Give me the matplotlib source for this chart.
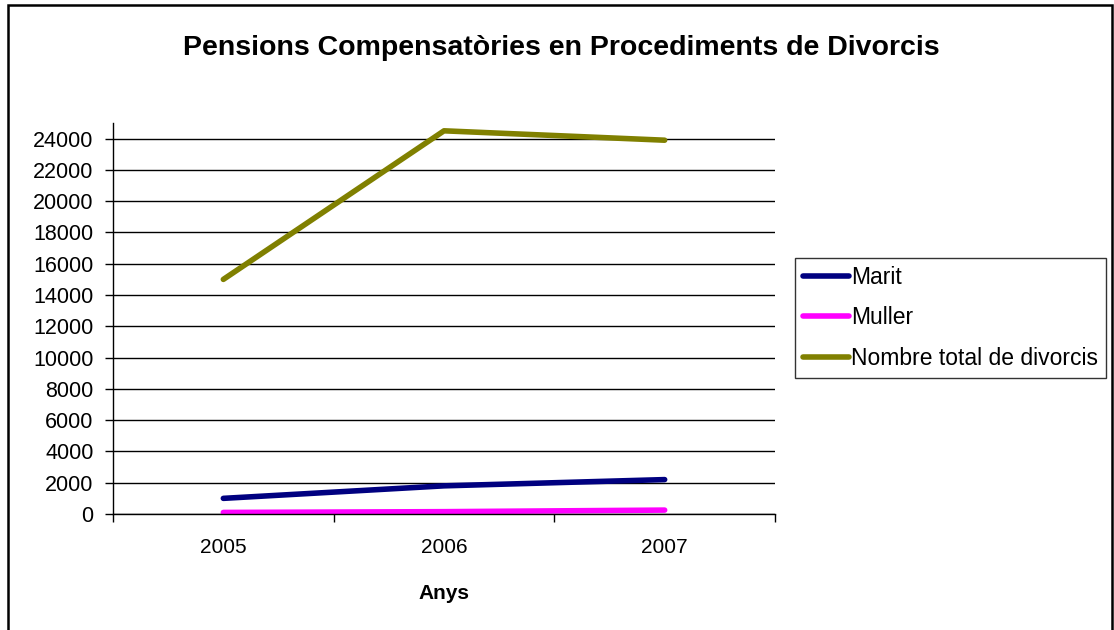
import matplotlib
matplotlib.use('Agg')
import matplotlib.pyplot as plt
from matplotlib.patches import Rectangle

years = ['2005', '2006', '2007']
marit = [1000, 1800, 2200]
muller = [100, 150, 250]
total_divorcis = [15000, 24500, 23900]

plt.rcParams['font.family'] = ['Liberation Sans', 'DejaVu Sans']

fig = plt.figure(figsize=(11.14, 6.3), dpi=100)
ax = fig.add_axes([113 / 1114, 1 - 514 / 630, (775 - 113) / 1114, (514 - 123) / 630])

x = range(len(years))
ax.plot(x, marit, color='#000080', lw=4, solid_capstyle='round', label='Marit')
ax.plot(x, muller, color='#FF00FF', lw=4, solid_capstyle='round', label='Muller')
ax.plot(x, total_divorcis, color='#808000', lw=4, solid_capstyle='round', label='Nombre total de divorcis')

ax.set_xlim(-0.5, 2.5)
ax.set_ylim(0, 25000)
ax.set_yticks(range(0, 25000, 2000))
ax.set_xticks([-0.5, 0.5, 1.5, 2.5])
ax.set_xticklabels([])
ax.set_xticks(list(x), minor=True)
ax.set_xticklabels(years, minor=True)
ax.tick_params(axis='x', which='minor', length=0, pad=17, labelsize=15)
ax.tick_params(axis='x', which='major', length=6, direction='out', width=1)
ax.tick_params(axis='y', length=6, direction='out', width=1, labelsize=15.5, pad=8)
ax.grid(axis='y', color='black', lw=1)
ax.set_axisbelow(True)
for s in ['top', 'right']:
    ax.spines[s].set_visible(False)
for s in ['left', 'bottom']:
    ax.spines[s].set_linewidth(1)

ax.set_xlabel('Anys', fontsize=15, fontweight='bold', labelpad=20)
fig.text(561 / 1114, 1 - 48 / 630, 'Pensions Compensatòries en Procediments de Divorcis',
         ha='center', va='center', fontsize=20.5, fontweight='bold')

leg = ax.legend(loc='center left', bbox_to_anchor=(795 / 1114, 1 - 318 / 630),
                bbox_transform=fig.transFigure, fontsize=16.5, frameon=True, fancybox=False,
                handlelength=2.0, handletextpad=0.1, borderpad=0.35, labelspacing=0.75,
                borderaxespad=0)
leg.get_frame().set_edgecolor('black')
leg.get_frame().set_linewidth(1)

fig.patches.append(Rectangle((8 / 1114, -0.02), 1104 / 1114, 1 - 5 / 630 + 0.02,
                             transform=fig.transFigure, fill=False, edgecolor='black', lw=1.8))

fig.savefig('out.png', dpi=100)
